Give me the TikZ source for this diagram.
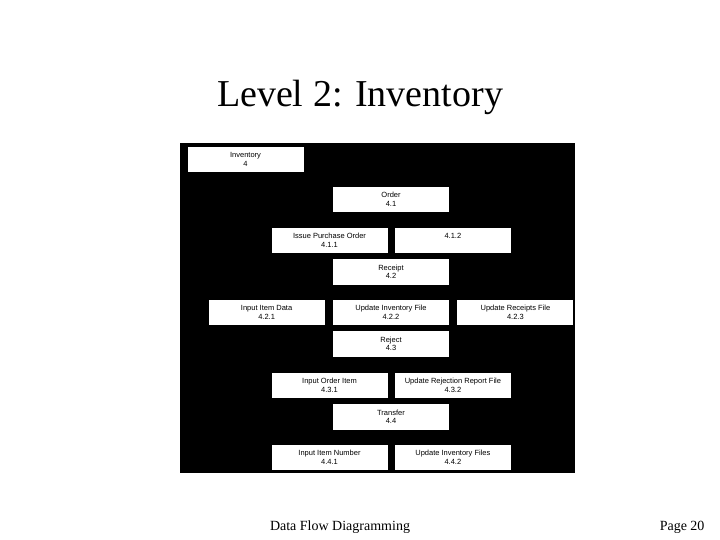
\documentclass[tikz,border=0pt]{standalone}
\usepackage{fontspec}
\setmainfont{Liberation Serif}
\newfontfamily\boxfont{Liberation Sans}
\usetikzlibrary{positioning}
\tikzset{
  pbox/.style={fill=white, rectangle, inner sep=0pt, minimum width=116pt, minimum height=25.5pt, align=center, font=\boxfont\fontsize{7.5}{8.5}\selectfont}
}
\begin{document}
\begin{tikzpicture}[x=1pt,y=-1pt]
  \useasboundingbox[fill=white] (0,0) rectangle (720,540);
  %% title and footer
  \node[font=\fontsize{38}{40}\selectfont] (title) at (360,97) {Level 2: Inventory};
  \node[font=\fontsize{14}{16}\selectfont] (foot) at (340,527) {Data Flow Diagramming};
  \node[font=\fontsize{14}{16}\selectfont, anchor=east] (page) at (708,527) {Page 20};
  %% chart
  \fill[black] (180,143) rectangle (575,473);
  \node[pbox] (inv) at (245.5,159.5) {Inventory\\4};
  \node[pbox] (o) at (391,199.5) {Order\\4.1};
  \node[pbox] (o1) at (329.5,240.5) {Issue Purchase Order\\4.1.1};
  \node[pbox, right=7pt of o1] (o2) {4.1.2\\ \phantom{4}};
  \node[pbox] (r) at (391,272) {Receipt\\4.2};
  \node[pbox] (r2) at (391,312.5) {Update Inventory File\\4.2.2};
  \node[pbox, left=8pt of r2] (r1) {Input Item Data\\4.2.1};
  \node[pbox, right=8pt of r2] (r3) {Update Receipts File\\4.2.3};
  \node[pbox] (j) at (391,344) {Reject\\4.3};
  \node[pbox] (j1) at (329.5,385.5) {Input Order Item\\4.3.1};
  \node[pbox, right=7pt of j1] (j2) {Update Rejection Report File\\4.3.2};
  \node[pbox] (t) at (391,417) {Transfer\\4.4};
  \node[pbox] (t1) at (329.5,457.5) {Input Item Number\\4.4.1};
  \node[pbox, right=7pt of t1] (t2) {Update Inventory Files\\4.4.2};
\end{tikzpicture}
\end{document}
